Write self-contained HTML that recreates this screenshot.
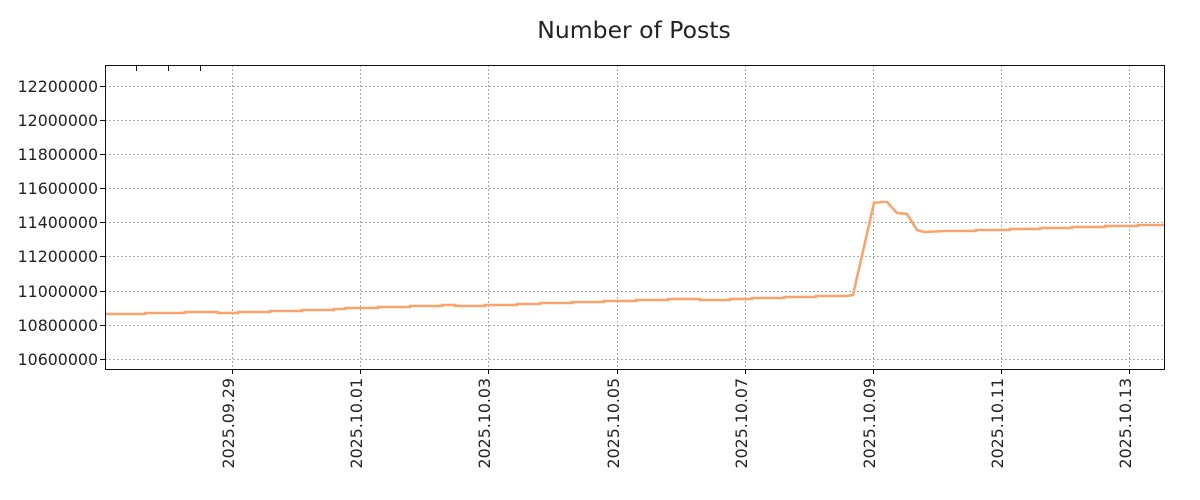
<!DOCTYPE html>
<html><head><style>
body{margin:0;background:#fff;}
svg{display:block;font-family:"DejaVu Sans","Liberation Sans",sans-serif;}
</style></head><body>
<svg width="1200" height="500" xmlns="http://www.w3.org/2000/svg">
<text x="634" y="38" font-size="23.5" text-anchor="middle" fill="#222">Number of Posts</text>
<g stroke="#aaa" stroke-width="1" stroke-dasharray="2,2">
<line x1="105" x2="1164" y1="86.5" y2="86.5"/><line x1="105" x2="1164" y1="120.5" y2="120.5"/>
<line x1="105" x2="1164" y1="154.5" y2="154.5"/><line x1="105" x2="1164" y1="188.5" y2="188.5"/>
<line x1="105" x2="1164" y1="222.5" y2="222.5"/><line x1="105" x2="1164" y1="256.5" y2="256.5"/>
<line x1="105" x2="1164" y1="291.5" y2="291.5"/><line x1="105" x2="1164" y1="325.5" y2="325.5"/>
<line x1="105" x2="1164" y1="359.5" y2="359.5"/>
<line y1="65" y2="369" x1="232.5" x2="232.5"/><line y1="65" y2="369" x1="360.5" x2="360.5"/>
<line y1="65" y2="369" x1="488.5" x2="488.5"/><line y1="65" y2="369" x1="617.5" x2="617.5"/>
<line y1="65" y2="369" x1="745.5" x2="745.5"/><line y1="65" y2="369" x1="873.5" x2="873.5"/>
<line y1="65" y2="369" x1="1001.5" x2="1001.5"/><line y1="65" y2="369" x1="1129.5" x2="1129.5"/>
</g>
<polyline fill="none" stroke="#f9a46c" stroke-width="2.6" points="105,314 145,314 145,313 185,313 185,312 218,312 218,313 238,313 238,312 270,312 270,311 302,311 302,310 334,310 334,309 345,309 345,308 378,308 378,307 410,307 410,306 442,306 442,305 455,305 455,306 485,306 485,305 517,305 517,304 540,304 540,303 572,303 572,302 604,302 604,301 636,301 636,300 668,300 668,299 700,299 700,300 730,300 730,299 752,299 752,298 784,298 784,297 816,297 816,296 846,296 853,295 874,203 882,202 887,202 897,213 907,214 917,230 924,232 945,231 976,231 976,230 1010,230 1010,229 1040,229 1040,228 1072,228 1072,227 1105,227 1105,226 1138,226 1138,225 1164,225"/>
<rect x="105.5" y="65.5" width="1059" height="304" fill="none" stroke="#111" stroke-width="1"/>
<g stroke="#111" stroke-width="1">
<line x1="105" x2="100" y1="86.5" y2="86.5"/><line x1="105" x2="100" y1="120.5" y2="120.5"/><line x1="105" x2="100" y1="154.5" y2="154.5"/><line x1="105" x2="100" y1="188.5" y2="188.5"/><line x1="105" x2="100" y1="222.5" y2="222.5"/><line x1="105" x2="100" y1="256.5" y2="256.5"/><line x1="105" x2="100" y1="291.5" y2="291.5"/><line x1="105" x2="100" y1="325.5" y2="325.5"/><line x1="105" x2="100" y1="359.5" y2="359.5"/>
<line y1="369" y2="374" x1="232.5" x2="232.5"/><line y1="369" y2="374" x1="360.5" x2="360.5"/><line y1="369" y2="374" x1="488.5" x2="488.5"/><line y1="369" y2="374" x1="617.5" x2="617.5"/><line y1="369" y2="374" x1="745.5" x2="745.5"/><line y1="369" y2="374" x1="873.5" x2="873.5"/><line y1="369" y2="374" x1="1001.5" x2="1001.5"/><line y1="369" y2="374" x1="1129.5" x2="1129.5"/>
<line y1="66" y2="71" x1="136.5" x2="136.5"/><line y1="66" y2="71" x1="168.5" x2="168.5"/><line y1="66" y2="71" x1="200.5" x2="200.5"/>
</g>
<g font-size="15.8" fill="#222" text-anchor="end">
<text x="98" y="92">12200000</text><text x="98" y="126">12000000</text><text x="98" y="160">11800000</text><text x="98" y="194">11600000</text><text x="98" y="228">11400000</text><text x="98" y="262">11200000</text><text x="98" y="297">11000000</text><text x="98" y="331">10800000</text><text x="98" y="365">10600000</text>
</g>
<g font-size="15.8" fill="#222" text-anchor="end">
<text transform="translate(234,378) rotate(-90)">2025.09.29</text>
<text transform="translate(362,378) rotate(-90)">2025.10.01</text>
<text transform="translate(490,378) rotate(-90)">2025.10.03</text>
<text transform="translate(619,378) rotate(-90)">2025.10.05</text>
<text transform="translate(747,378) rotate(-90)">2025.10.07</text>
<text transform="translate(875,378) rotate(-90)">2025.10.09</text>
<text transform="translate(1003,378) rotate(-90)">2025.10.11</text>
<text transform="translate(1131,378) rotate(-90)">2025.10.13</text>
</g>
</svg>
</body></html>
